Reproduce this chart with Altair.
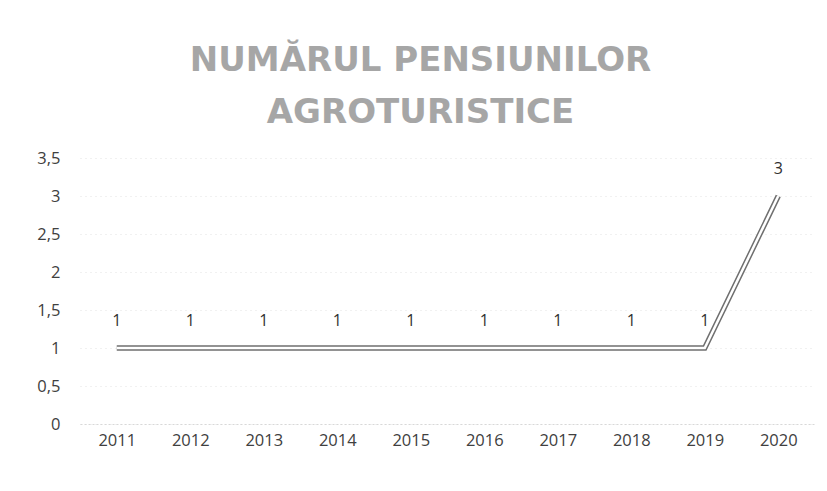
import altair as alt
import pandas as pd

years = ["2011", "2012", "2013", "2014", "2015", "2016", "2017", "2018", "2019", "2020"]
values = [1, 1, 1, 1, 1, 1, 1, 1, 1, 3]

df = pd.DataFrame({"an": years, "valoare": values})

x = alt.X("an:N", title=None, sort=years,
          scale=alt.Scale(paddingInner=0, paddingOuter=0),
          axis=alt.Axis(labelAngle=0, labelFontSize=16.5, labelColor="#404040",
                        labelFont="Open Sans", labelPadding=8, ticks=False,
                        domain=True, domainColor="#d8d8d8", domainDash=[2, 2],
                        grid=False))
y = alt.Y("valoare:Q", title=None,
          scale=alt.Scale(domain=[0, 3.5]),
          axis=alt.Axis(values=[0, 0.5, 1, 1.5, 2, 2.5, 3, 3.5],
                        labelExpr="replace(format(datum.value, '.1~f'), '.', ',')",
                        labelFontSize=16.5, labelColor="#404040", labelFont="Open Sans",
                        labelPadding=20, minExtent=67, ticks=False, domain=False,
                        grid=True, gridColor="#e2e2e2", gridDash=[1, 4]))

base = alt.Chart(df).encode(x=x, y=y)

outer = base.mark_line(color="#6f6f6f", strokeWidth=5.5, strokeJoin="miter")
inner = base.mark_line(color="#ffffff", strokeWidth=2.5, strokeJoin="miter")
labels = base.mark_text(dy=-27, fontSize=16, font="Open Sans", color="#303030").encode(
    text=alt.Text("valoare:Q"))

chart = alt.layer(outer, inner, labels).properties(
    width=735,
    height=266,
    background="#ffffff",
    padding={"top": 36, "left": 5, "right": 4, "bottom": 5},
    title=alt.Title(["NUMĂRUL PENSIUNILOR", "AGROTURISTICE"],
                    font="DejaVu Sans", fontSize=34, fontWeight="bold",
                    color="#a6a6a6", lineHeight=52, anchor="middle",
                    dx=-27, offset=20),
).configure_view(stroke=None)

chart.save("out.html", embed_options={"renderer": "svg", "actions": False})
